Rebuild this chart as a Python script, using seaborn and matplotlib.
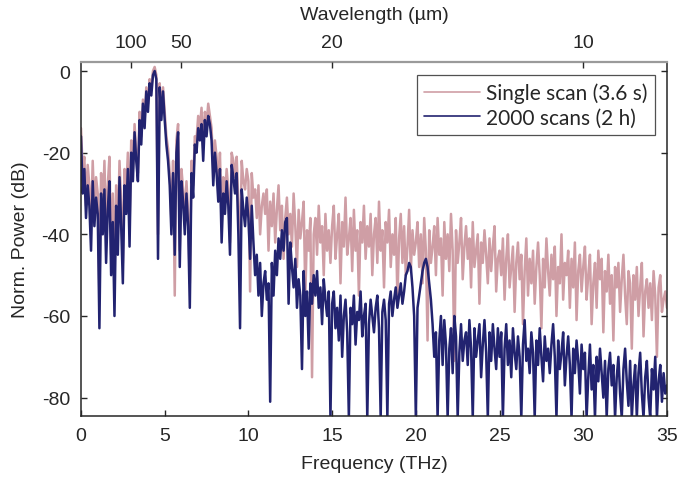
import numpy as np
import pandas as pd
import seaborn as sns
import matplotlib.pyplot as plt

# spectra, 0.1 THz steps from 0 to 35 THz
single_scan = [
    -14, -24, -21, -33, -23, -28, -38, -22, -34, -26,
    -30, -55, -25, -35, -22, -40, -28, -21, -45, -30,
    -50, -28, -40, -22, -32, -47, -24, -30, -20, -38,
    -17, -24, -13, -20, -25, -10, -16, -7, -12, -4,
    -8, -2, -4, 0, 1, -1, -40, -3, -10, -4,
    -10, -16, -19, -25, -37, -22, -55, -17, -13, -44,
    -24, -29, -36, -27, -35, -52, -22, -28, -16, -17,
    -11, -14, -9, -19, -10, -13, -8, -11, -14, -24,
    -17, -21, -28, -20, -38, -26, -31, -24, -29, -42,
    -20, -22, -26, -21, -33, -45, -22, -27, -29, -24,
    -27, -54, -25, -31, -29, -36, -28, -40, -33, -30,
    -35, -29, -44, -32, -38, -30, -42, -34, -28, -39,
    -33, -46, -36, -31, -40, -35, -43, -30, -38, -48,
    -34, -41, -37, -32, -55, -39, -44, -36, -75, -40,
    -36, -45, -33, -42, -38, -50, -35, -44, -39, -47,
    -38, -33, -46, -40, -35, -52, -37, -43, -31, -45,
    -41, -36, -49, -34, -44, -39, -55, -37, -42, -33,
    -46, -38, -43, -35, -50, -40, -36, -47, -32, -44,
    -39, -53, -37, -42, -34, -48, -40, -45, -36, -56,
    -41, -35, -47, -38, -50, -43, -34, -49, -39, -45,
    -42, -37, -48, -40, -52, -36, -44, -66, -39, -47,
    -43, -38, -50, -36, -45, -41, -55, -37, -46, -40,
    -49, -35, -44, -71, -39, -47, -42, -36, -51, -43,
    -38, -46, -41, -53, -37, -48, -44, -40, -57, -42,
    -47, -39, -45, -52, -41, -49, -43, -38, -54, -46,
    -44, -50, -41, -56, -46, -40, -53, -48, -43, -59,
    -47, -42, -51, -45, -62, -49, -41, -55, -46, -52,
    -44, -57, -48, -42, -50, -63, -46, -53, -41, -49,
    -55, -45, -51, -43, -60, -48, -52, -40, -56, -47,
    -50, -44, -58, -46, -53, -42, -61, -49, -45, -54,
    -48, -43, -56, -50, -45, -62, -52, -47, -58, -44,
    -51, -46, -64, -49, -54, -45, -57, -50, -66, -48,
    -53, -47, -59, -51, -45, -55, -62, -49, -52, -68,
    -50, -56, -48, -60, -53, -47, -65, -54, -51, -58,
    -52, -61, -49, -55, -70, -53, -50, -59, -56, -54,
    -58,
]

averaged = [
    -16, -30, -24, -36, -28, -33, -44, -27, -38, -31,
    -35, -63, -30, -40, -29, -47, -34, -27, -50, -37,
    -60, -33, -45, -26, -38, -52, -28, -35, -24, -43,
    -20, -27, -15, -22, -27, -12, -18, -8, -14, -5,
    -10, -3, -6, -1, 0, -2, -46, -4, -12, -5,
    -12, -18, -22, -28, -40, -25, -45, -20, -15, -48,
    -27, -32, -40, -30, -38, -58, -25, -31, -18, -20,
    -14, -17, -13, -22, -12, -16, -11, -13, -17, -28,
    -20, -25, -32, -24, -42, -30, -35, -27, -33, -45,
    -23, -26, -30, -25, -40, -63, -29, -34, -38, -31,
    -36, -46, -33, -42, -50, -45, -55, -47, -60, -52,
    -49, -56, -52, -81, -47, -55, -44, -50, -41, -46,
    -39, -44, -37, -36, -57, -42, -48, -53, -46, -58,
    -51, -55, -73, -49, -60, -54, -68, -52, -57, -50,
    -55, -49, -58, -53, -62, -51, -56, -60, -54, -85,
    -57, -54, -63, -58, -66, -55, -70, -60, -56, -64,
    -85, -58, -62, -55, -67, -59, -61, -54, -65, -60,
    -57, -85, -62, -56, -60, -64, -58, -55, -63, -85,
    -59, -56, -61, -85, -57, -54, -60, -56, -53, -58,
    -55, -52, -57, -54, -50, -49, -47, -48, -53, -60,
    -85, -58, -55, -52, -49, -47, -46, -48, -52, -56,
    -62, -70, -64, -85, -66, -60, -72, -61, -67, -85,
    -68, -63, -74, -60, -65, -85, -69, -62, -71, -66,
    -64, -72, -61, -68, -85, -63, -70, -66, -62, -75,
    -67, -61, -69, -85, -64, -71, -62, -68, -73, -63,
    -70, -64, -85, -68, -62, -72, -66, -75, -63, -69,
    -73, -65, -70, -85, -67, -61, -71, -68, -74, -64,
    -69, -85, -66, -72, -63, -70, -76, -65, -71, -68,
    -74, -67, -62, -70, -85, -66, -73, -69, -64, -77,
    -70, -65, -72, -85, -68, -74, -66, -71, -79, -67,
    -73, -69, -85, -75, -67, -78, -72, -85, -70, -76,
    -68, -74, -80, -71, -85, -73, -69, -77, -72, -85,
    -75, -70, -79, -85, -73, -68, -76, -82, -71, -85,
    -77, -72, -85, -74, -69, -79, -85, -75, -71, -80,
    -85, -73, -78, -70, -85, -76, -72, -81, -74, -79,
    -77,
]
assert len(single_scan) == 351 and len(averaged) == 351

freq = np.linspace(0, 35, 351)
wl_ticks = [100, 50, 20, 10]  # µm
labels = ["Single scan (3.6 s)", "2000 scans (2 h)"]
colors = ["#cf9ea5", "#222370"]

df = pd.DataFrame({"freq": np.concatenate([freq, freq]),
                   "power": single_scan + averaged,
                   "series": [labels[0]] * 351 + [labels[1]] * 351})

sns.set_style("ticks")
plt.rcParams["font.family"] = ["Liberation Sans", "DejaVu Sans"]
plt.rcParams["axes.unicode_minus"] = False

fig = plt.figure(figsize=(7, 4.89), dpi=100)
ax = fig.add_axes([0.1157, 0.1472, 0.8371, 0.7239])

sns.lineplot(data=df, x="freq", y="power", hue="series", palette=colors,
             estimator=None, sort=False, linewidth=1.8, ax=ax)

ax.set_xlim(0, 35)
ax.set_ylim(-84.5, 2.2)
ax.set_xticks(range(0, 36, 5))
ax.set_yticks([0, -20, -40, -60, -80])
ax.tick_params(direction="in", length=4, width=1, labelsize=14, pad=8,
               right=True, color="#262626")
ax.set_xlabel("Frequency (THz)", fontsize=14, labelpad=8)
ax.set_ylabel("Norm. Power (dB)", fontsize=14, labelpad=9)
for s in ax.spines.values():
    s.set_color("#262626")
    s.set_linewidth(1.1)

# wavelength axis on top
ax2 = ax.twiny()
ax2.set_xlim(ax.get_xlim())
ax2.set_xticks([299.79 / w for w in wl_ticks])
ax2.set_xticklabels([str(w) for w in wl_ticks])
ax2.tick_params(direction="in", length=4, width=1, labelsize=14, pad=8,
                color="#262626")
ax2.set_xlabel("Wavelength (µm)", fontsize=14, labelpad=11)
for s in ax2.spines.values():
    s.set_visible(False)
ax.spines["top"].set_color("#9a9a9a")
ax.spines["top"].set_linewidth(1.6)

handles, _ = ax.get_legend_handles_labels()
leg = ax.legend(handles, labels, loc="upper right", bbox_to_anchor=(0.98, 0.962),
                borderaxespad=0, frameon=True, fancybox=False, edgecolor="#262626",
                handlelength=2.7, handletextpad=0.3, borderpad=0.35, labelspacing=0.2,
                prop={"family": ["Lato", "DejaVu Sans"], "size": 15})
leg.get_frame().set_linewidth(0.9)
for h in leg.get_lines():
    h.set_linewidth(1.2)

fig.savefig("out.png", dpi=100)
